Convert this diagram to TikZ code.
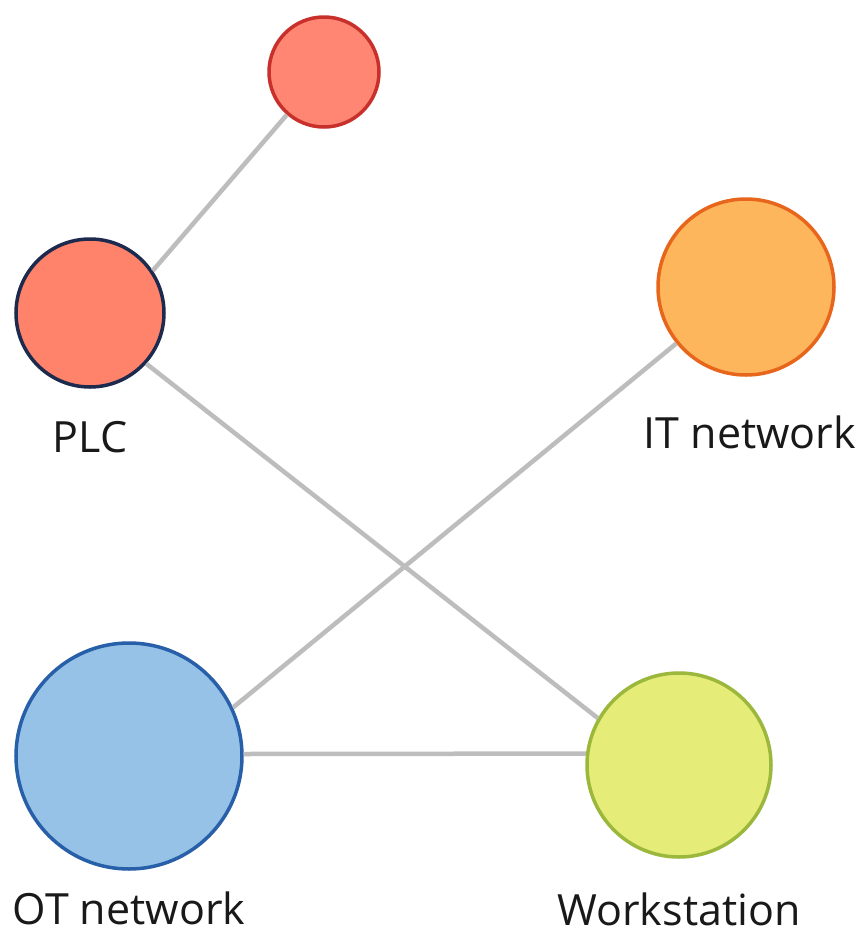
\documentclass[tikz,border=0pt]{standalone}
\usepackage{fontspec}
\setmainfont{Open Sans}
\usetikzlibrary{positioning}

\definecolor{redfill}{HTML}{FF8672}
\definecolor{reddraw}{HTML}{C8302C}
\definecolor{plcfill}{HTML}{FF826A}
\definecolor{plcdraw}{HTML}{1C2A4E}
\definecolor{itfill}{HTML}{FDB65C}
\definecolor{itdraw}{HTML}{E8661C}
\definecolor{otfill}{HTML}{96C2E8}
\definecolor{otdraw}{HTML}{2760A8}
\definecolor{wsfill}{HTML}{E6EC78}
\definecolor{wsdraw}{HTML}{9CB83C}
\definecolor{linkgray}{HTML}{BDBDBD}

\begin{document}
\begin{tikzpicture}[x=1pt,y=-1pt,
host/.style={circle,
  inner sep=0pt,
  line width=3.5pt
},
lbl/.style={anchor=base,inner sep=0pt,
  text depth=0pt,
  node font=\fontsize{43}{50}\selectfont,
  text=black!90
},
link/.style={linkgray,line width=4.5pt}]

\useasboundingbox [fill=white] (0,0) rectangle (865,935);

\node (top) [host,fill=redfill,draw=reddraw,minimum size=110pt] at (324,72) {};
\node (plc) [host,fill=plcfill,draw=plcdraw,minimum size=148pt] at (90,313) {};
\node (it) [host,fill=itfill,draw=itdraw,minimum size=176pt] at (746,287) {};
\node (ot) [host,fill=otfill,draw=otdraw,minimum size=226pt] at (129,756) {};
\node (ws) [host,fill=wsfill,draw=wsdraw,minimum size=184pt] at (679,765) {};

\node (plclbl) [lbl] at (90,452) {PLC};
\node (itlbl) [lbl] at (750,448) {IT network};
\node (otlbl) [lbl] at (129,924) {OT network};
\node (wslbl) [lbl] at (679,925) {Workstation};

\draw [link] (top.229) to (plc.34);
\draw [link] (plc.318) to (ws.150);
\draw [link] (it.219) to (ot.25);
\draw [link] (ot.1) to (ws.173);

\end{tikzpicture}
\end{document}
